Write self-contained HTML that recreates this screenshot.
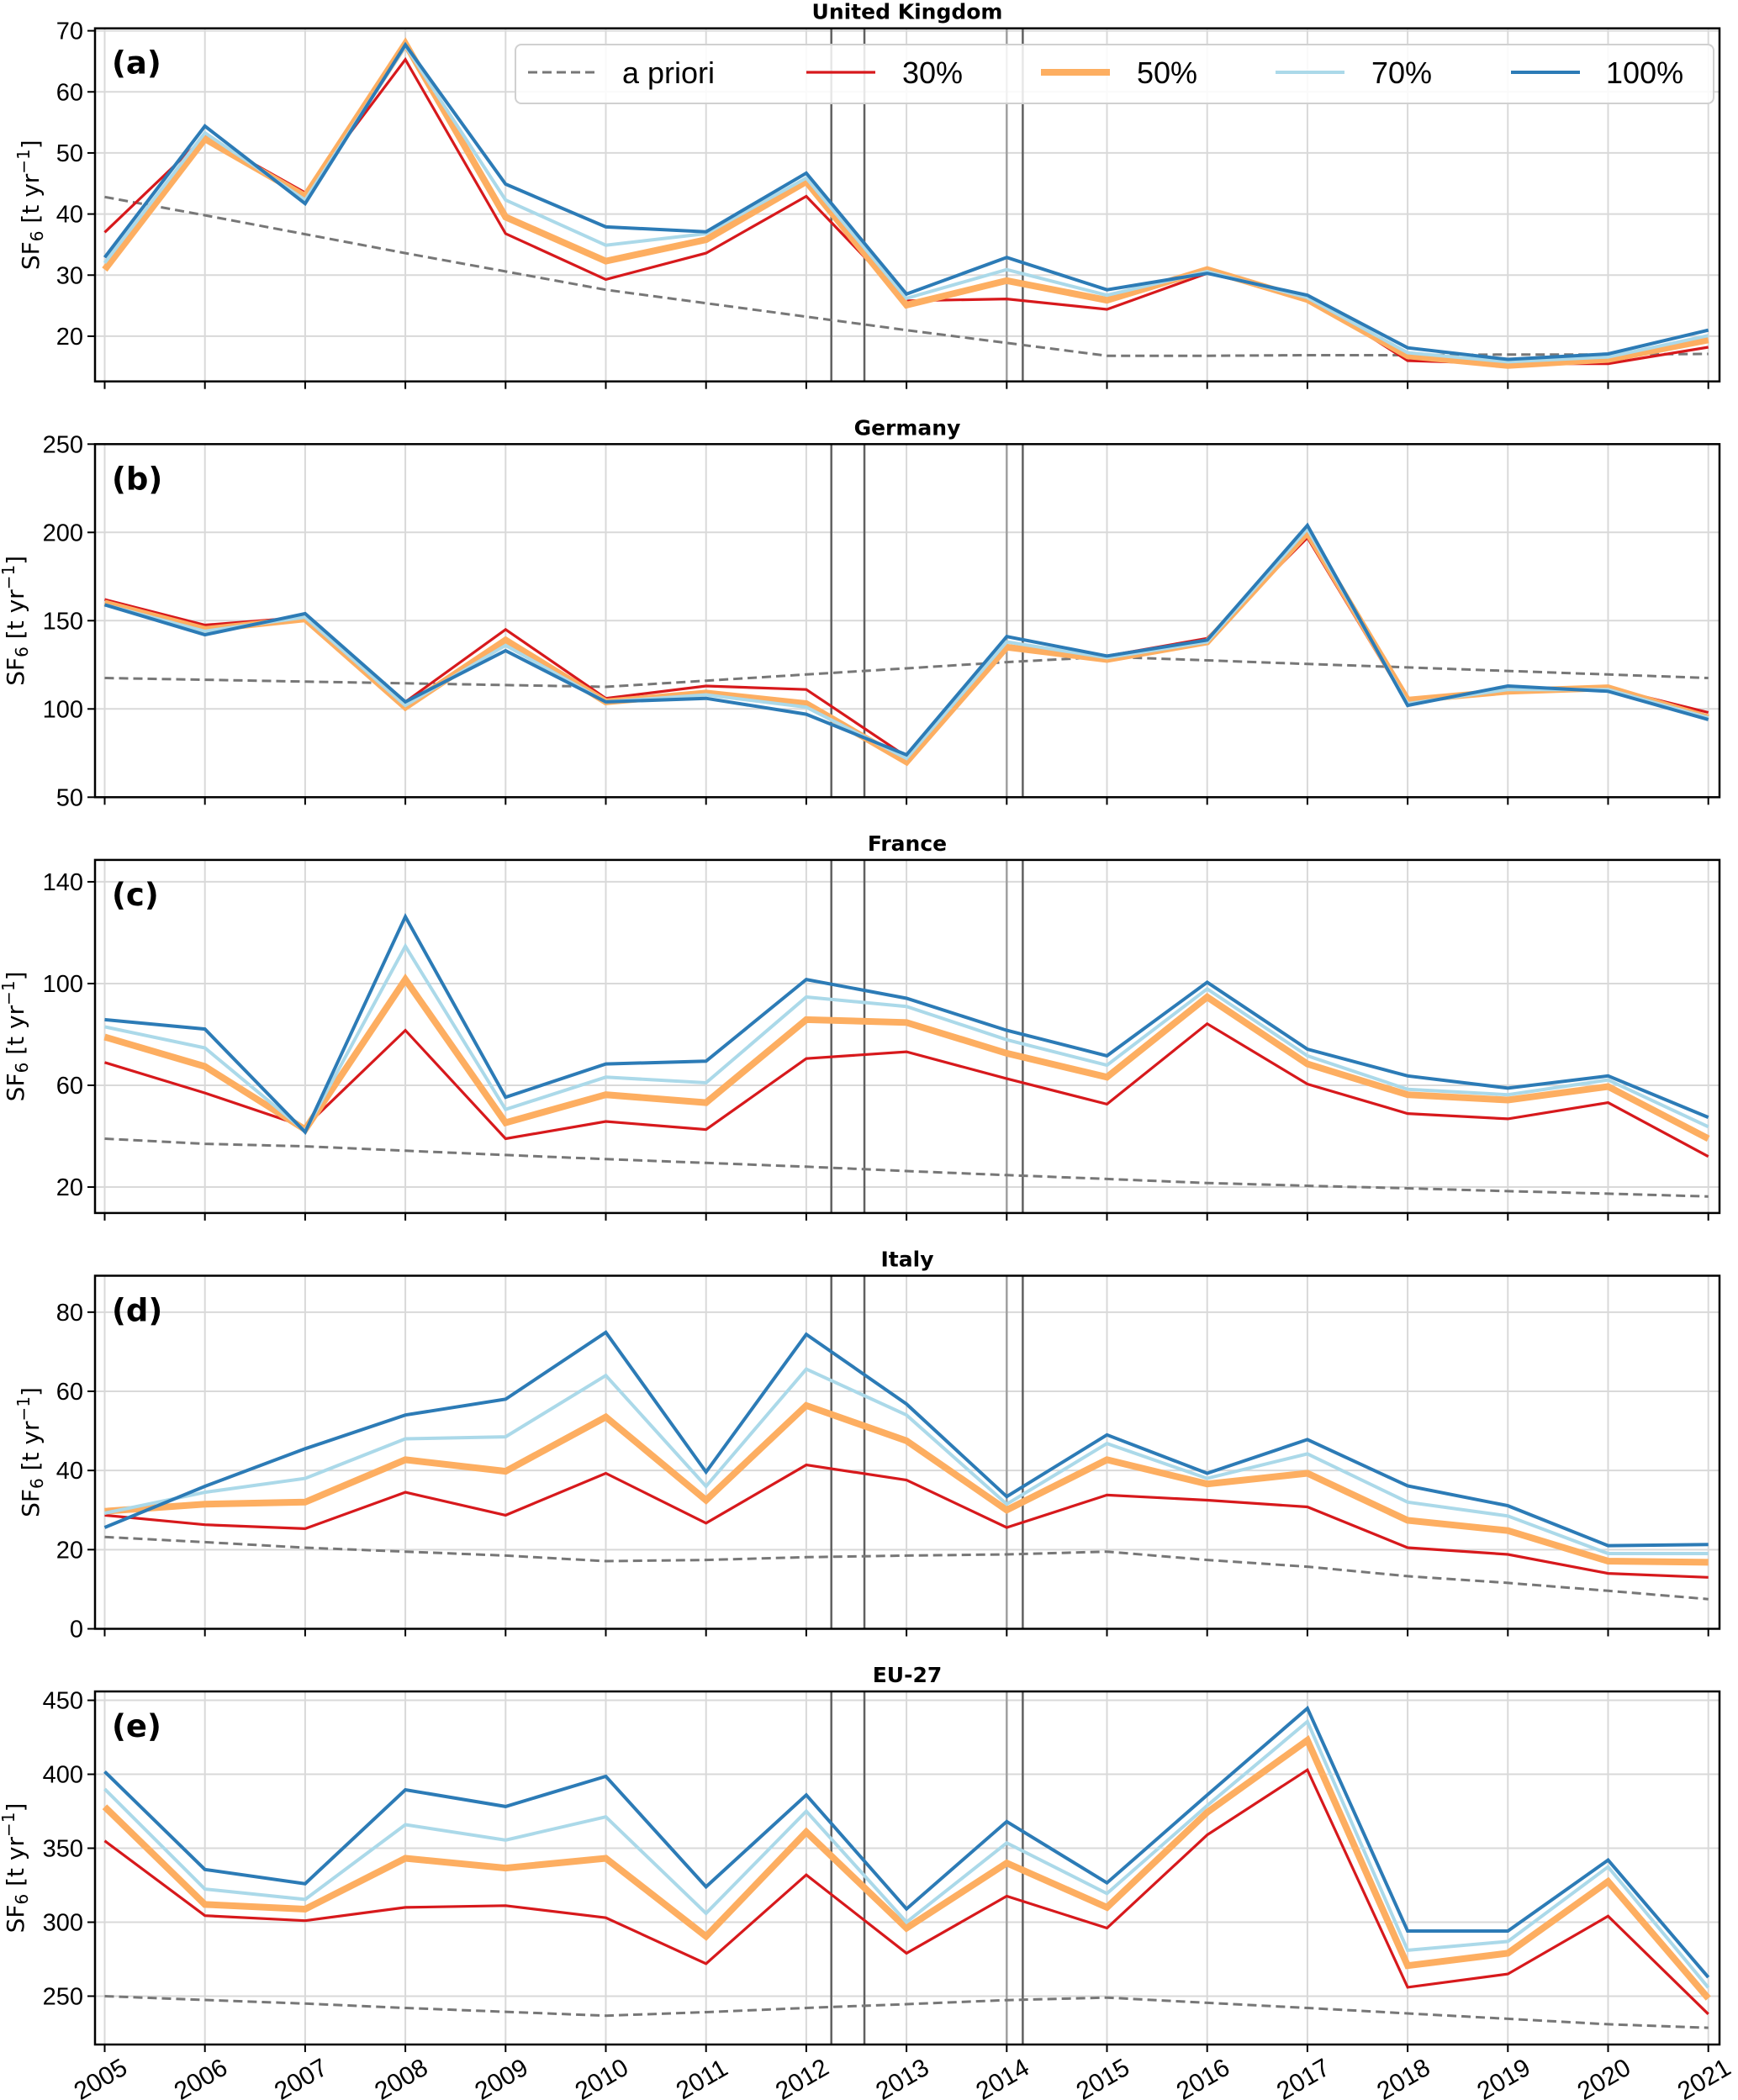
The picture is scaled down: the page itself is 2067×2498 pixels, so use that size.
<!DOCTYPE html>
<html><head><meta charset="utf-8"><style>
html,body{margin:0;padding:0;background:#fff;}
svg{display:block;}
</style></head><body>
<svg id="fig" width="2067" height="2498" viewBox="0 0 2067 2498" xmlns="http://www.w3.org/2000/svg"></svg>
<script>
const years = [2005,2006,2007,2008,2009,2010,2011,2012,2013,2014,2015,2016,2017,2018,2019,2020,2021];
const panelTitles = ["United Kingdom","Germany","France","Italy","EU-27"];
const panelLetters = ["(a)","(b)","(c)","(d)","(e)"];
const seriesNames = ["a priori","30%","50%","70%","100%"];

const ukPrior = [42.8,39.8,36.7,33.6,30.6,27.6,25.4,23.2,21.0,18.9,16.8,16.8,16.9,16.9,17.0,17.0,17.1];
const uk30 = [37.0,52.7,43.5,65.3,36.8,29.3,33.6,42.9,25.8,26.1,24.4,30.3,26.5,16.0,15.5,15.5,18.2];
const uk50 = [30.9,52.3,42.9,67.9,39.5,32.3,35.8,45.3,25.1,29.1,25.9,30.9,26.0,16.8,15.2,16.2,19.4];
const uk70 = [32.0,53.3,42.3,67.5,42.3,34.9,36.8,45.9,26.2,30.9,26.7,30.6,26.3,17.3,15.8,16.6,20.1];
const uk100 = [32.9,54.4,41.7,67.7,44.9,37.9,37.1,46.7,26.9,32.9,27.6,30.3,26.7,18.1,16.2,17.1,21.0];

const dePrior = [117.5,116.5,115.5,114.5,113.5,112.5,116,119.5,123,126.5,129.5,127.5,125.5,123.5,121.5,119.5,117.5];
const de30 = [162,147.5,152,104,145,106,113,111,73,134,130,140,197,103,112,112,98];
const de50 = [160,145,151,101,139,104,109,103,70,135,128,138,200,105,110,112,95];
const de70 = [159,144,152,102,136,104,108,101,72,138,129,138,202,103,111,111,95];
const de100 = [159,142,154,104,133,104,106,97,74,141,130,139,204,102,113,110,94];

const frPrior = [39,37,36,34.3,32.6,31,29.5,28,26.3,24.7,23.2,21.6,20.5,19.5,18.4,17.4,16.3];
const fr30 = [69,57,43.7,81.6,39,45.8,42.6,70.5,73.2,62.6,52.6,84.2,60.5,48.9,46.8,53.2,32];
const fr50 = [79,67.4,42.6,101.6,45.3,56.3,53.2,85.8,84.7,72.6,63.2,94.7,68.4,56.3,54.2,59.5,39];
const fr70 = [83,74.7,42,114.7,50.5,63.2,61,94.7,91,77.9,67.9,97.9,71.6,58.4,56.3,62.1,43.7];
const fr100 = [85.8,82.1,41.6,126.3,55.3,68.4,69.5,101.6,94.2,81.6,71.6,100.5,74.2,63.7,58.9,63.7,47.4];

const itPrior = [23.2,21.9,20.5,19.5,18.5,17.1,17.4,18.1,18.5,18.8,19.5,17.4,15.7,13.3,11.6,9.6,7.5];
const it30 = [28.7,26.3,25.3,34.5,28.7,39.3,26.7,41.4,37.6,25.6,33.8,32.5,30.8,20.5,18.8,14,13];
const it50 = [29.7,31.5,32,42.7,39.8,53.5,32.5,56.4,47.5,30,42.7,36.6,39.3,27.4,24.8,17.1,16.8];
const it70 = [29.2,34.5,38,48,48.5,64,36,65.6,54,31.5,46.8,38,44.2,32,28.5,19,19];
const it100 = [25.6,36,45.5,54,58,74.9,39.6,74.4,56.8,33.4,49,39.3,47.8,36.1,31.1,21,21.3];

const euPrior = [250,247.4,245,242,239.4,236.8,239.2,242,244.6,247.3,249,245.5,242,238.3,234.7,231,228.6];
const eu30 = [355,304.4,301,310,311.2,303,272,332,279,317.6,296,359,403,256,265,304.1,237.9];
const eu50 = [378,312,308.8,343.2,336.6,343.2,290.4,361,296,340,310,374.3,423,270.6,279,327.5,248.5];
const eu70 = [390,322.4,315.4,365.9,355.5,371.2,306,375,300,353.6,319.4,378.8,435.6,281,287,337.4,255.8];
const eu100 = [401.8,335.6,326,389.5,378.2,398.6,323.9,386,309,368,326.6,386,444.6,294,294,342,262.7];

const yTicksA = [20,30,40,50,60,70];
const yTicksB = [50,100,150,200,250];
const yTicksC = [20,60,100,140];
const yTicksD = [0,20,40,60,80];
const yTicksE = [250,300,350,400,450];
const xTickLabels = ["2005","2006","2007","2008","2009","2010","2011","2012","2013","2014","2015","2016","2017","2018","2019","2020","2021"];
const vLineYears = [2012.25,2012.58,2014.0,2014.16];

const NS = "http://www.w3.org/2000/svg";
const svg = document.getElementById("fig");
function mk(tag, attrs, parent){
  const e = document.createElementNS(NS, tag);
  for (const k in attrs) e.setAttribute(k, attrs[k]);
  (parent||svg).appendChild(e);
  return e;
}
const L = 113, R = 2045, H = 420;
const tops = [33.7, 528.3, 1022.9, 1517.5, 2012];
const ylims = [[12.6,70.4],[50,250],[9.8,148.6],[0,89.2],[217.3,456]];
const panelData = [
  [ukPrior,uk30,uk50,uk70,uk100],
  [dePrior,de30,de50,de70,de100],
  [frPrior,fr30,fr50,fr70,fr100],
  [itPrior,it30,it50,it70,it100],
  [euPrior,eu30,eu50,eu70,eu100]
];
const panelTicks = [yTicksA,yTicksB,yTicksC,yTicksD,yTicksE];
const ylabX = [36,18,18,36,18];
const styles = [
  {stroke:"#777777", w:3, dash:"11,6"},
  {stroke:"#d7191c", w:3.2},
  {stroke:"#fdae61", w:8},
  {stroke:"#abd9e9", w:4},
  {stroke:"#2c7bb6", w:4}
];
const xScale = yr => 124.5 + (yr - 2005) * 119.2;

panelData.forEach((series, p) => {
  const top = tops[p], bot = top + H;
  const [y0, y1] = ylims[p];
  const yScale = v => bot - (v - y0) / (y1 - y0) * H;
  const g = mk("g", {});
  
  
  years.forEach(yr => {
    const x = xScale(yr);
    const gl = mk("line", {x1:x, x2:x, y1:top, y2:bot, stroke:"#d9d9d9", "stroke-width":2}, g);
    
    
    const tk = mk("line", {x1:x, x2:x, y1:bot, y2:bot+9, stroke:"#000", "stroke-width":2}, g);
    
    
  });
  panelTicks[p].forEach(v => {
    const y = yScale(v);
    const gl = mk("line", {x1:L, x2:R, y1:y, y2:y, stroke:"#d9d9d9", "stroke-width":2}, g);
    
    
    const tk = mk("line", {x1:L-9, x2:L, y1:y, y2:y, stroke:"#000", "stroke-width":2}, g);
    
    
    const t = mk("text", {x:L-14, y:y+10, "text-anchor":"end", "font-family":"Liberation Sans, sans-serif", "font-size":29}, g);
    
    
    t.textContent = String(v);
  });
  vLineYears.forEach((yr, i) => {
    const x = xScale(yr);
    const vl = mk("line", {x1:x, x2:x, y1:top, y2:bot, stroke: i===2 ? "#a0a0a0" : "#606060", "stroke-width":2.5}, g);
    
    
  });
  series.forEach((vals, s) => {
    const st = styles[s];
    const pts = vals.map((v, i) => xScale(years[i]).toFixed(1) + "," + yScale(v).toFixed(1)).join(" ");
    const pl = mk("polyline", {points:pts, fill:"none", stroke:st.stroke, "stroke-width":st.w, "stroke-linejoin":"miter"}, g);
    if (st.dash) pl.setAttribute("stroke-dasharray", st.dash);
    
    
  });
  const fr = mk("rect", {x:L, y:top, width:R-L, height:H, fill:"none", stroke:"#000", "stroke-width":2.5}, g);
  
  
  const tt = mk("text", {x:(L+R)/2, y:top-11, "text-anchor":"middle", "font-family":"DejaVu Sans, sans-serif", "font-weight":"bold", "font-size":25}, g);
  
  
  tt.textContent = panelTitles[p];
  const lt = mk("text", {x:133, y:top+54, "font-family":"DejaVu Sans, sans-serif", "font-weight":"bold", "font-size":37}, g);
  
  
  lt.textContent = panelLetters[p];
  const cy = top + H/2;
  const yl = mk("text", {x:0, y:0, transform:"translate(" + (ylabX[p]+10) + "," + cy + ") rotate(-90)", "text-anchor":"middle", "font-family":"DejaVu Sans, sans-serif", "font-size":28}, g);
  
  
  yl.innerHTML = 'SF<tspan font-size="20" dy="5">6</tspan><tspan dy="-5"> [t yr</tspan><tspan font-size="20" dy="-11">−1</tspan><tspan dy="11">]</tspan>';
  if (p === 4) {
    xTickLabels.forEach((lab, i) => {
      const x = xScale(years[i]);
      const t = mk("text", {x:0, y:0, transform:"translate(" + x + "," + (bot+50) + ") rotate(-30)", "text-anchor":"middle", "font-family":"Liberation Sans, sans-serif", "font-size":30}, g);
      
      
      t.textContent = lab;
    });
  }
});

const lg = mk("g", {});


const lr = mk("rect", {x:613, y:53, width:1425, height:70, rx:7, fill:"#fff", "fill-opacity":0.85, stroke:"#d0d0d0", "stroke-width":2}, lg);


const handleX = [628, 959, 1238, 1517, 1797];
const textX = [740, 1073, 1352, 1631, 1910];
seriesNames.forEach((nm, s) => {
  const st = styles[s];
  const hl = mk("line", {x1:handleX[s], x2:handleX[s]+82, y1:86, y2:86, stroke:st.stroke, "stroke-width":st.w}, lg);
  if (st.dash) hl.setAttribute("stroke-dasharray", st.dash);
  
  
  const t = mk("text", {x:textX[s], y:99, "font-family":"Liberation Sans, sans-serif", "font-size":36}, lg);
  
  
  t.textContent = nm;
});
</script>
</body></html>
